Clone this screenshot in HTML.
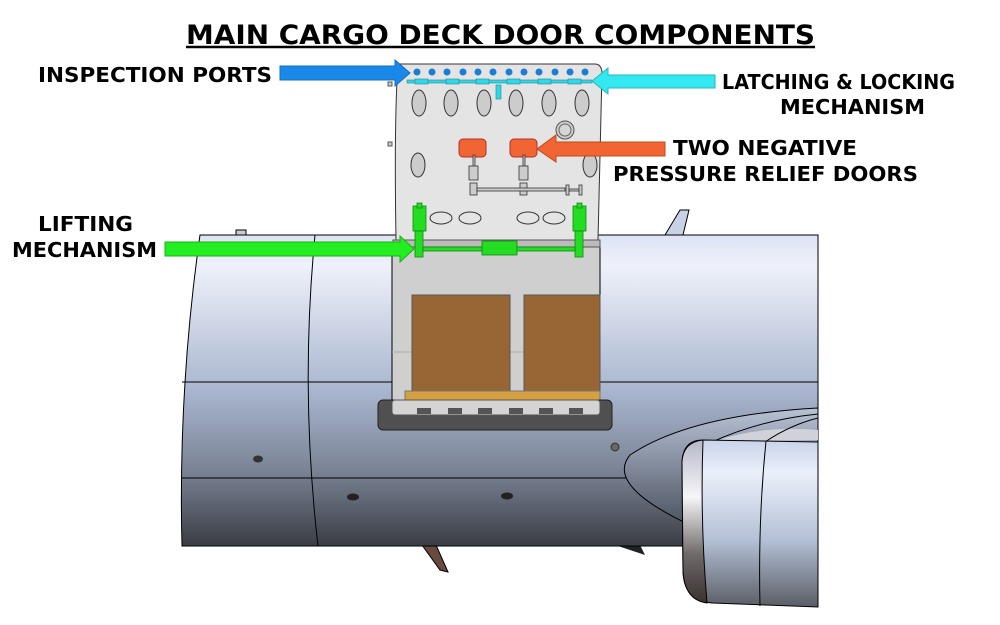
<!DOCTYPE html>
<html><head><meta charset="utf-8"><style>
body{margin:0;background:#fff;width:1000px;height:625px;overflow:hidden}
svg{display:block}
text{font-family:"DejaVu Sans","Liberation Sans",sans-serif;font-weight:bold;fill:#000}
</style></head><body>
<svg width="1000" height="625" viewBox="0 0 1000 625">
<defs>
<linearGradient id="fus" x1="0" y1="0" x2="0" y2="1">
<stop offset="0" stop-color="#dde3f4"/><stop offset="0.1" stop-color="#eef1fa"/>
<stop offset="0.5" stop-color="#a9b6cf"/><stop offset="0.75" stop-color="#7c8597"/>
<stop offset="1" stop-color="#3a3d44"/></linearGradient>
<linearGradient id="nac" x1="0" y1="0" x2="0" y2="1">
<stop offset="0" stop-color="#c9d3ea"/><stop offset="0.2" stop-color="#eaf0fa"/>
<stop offset="0.6" stop-color="#b4c0d6"/><stop offset="1" stop-color="#5a5d64"/></linearGradient>
<linearGradient id="lip" x1="0" y1="0" x2="0" y2="1">
<stop offset="0" stop-color="#b6b8c8"/><stop offset="0.35" stop-color="#f6f6f8"/>
<stop offset="0.7" stop-color="#706a6a"/><stop offset="1" stop-color="#3a3030"/></linearGradient>
<linearGradient id="pyl" x1="0" y1="0" x2="0" y2="1">
<stop offset="0" stop-color="#b8c2d6"/><stop offset="1" stop-color="#4c5360"/></linearGradient>
</defs>

<text x="186" y="44" font-size="27" textLength="629" lengthAdjust="spacingAndGlyphs">MAIN CARGO DECK DOOR COMPONENTS</text>
<line x1="186" y1="47" x2="815" y2="47" stroke="#000" stroke-width="2.5"/>

<!-- fins -->
<polygon points="665,235 680,210 689,210 683,235" fill="#c9d1e6" stroke="#000"/>
<polygon points="422,545 436,545 448,572 440,570" fill="#6a4a40" stroke="#000"/>
<polygon points="615,545 640,545 645,555" fill="#222"/>
<rect x="236" y="230" width="10" height="6" fill="#ccc" stroke="#000"/>

<!-- fuselage -->
<path d="M200,235 L818,235 L818,546 L182,546 Q178,390 200,235 Z" fill="url(#fus)" stroke="#000"/>
<path d="M315,235 Q300,390 318,546" fill="none" stroke="#000"/>
<line x1="182" y1="382" x2="818" y2="382" stroke="#000"/>
<line x1="182" y1="478" x2="818" y2="478" stroke="#000"/>
<ellipse cx="258" cy="459" rx="5" ry="3.5" fill="#333"/>
<ellipse cx="353" cy="497" rx="6" ry="3.5" fill="#222"/>
<ellipse cx="507" cy="496" rx="6" ry="3.5" fill="#222"/>
<circle cx="615" cy="447" r="4" fill="#666" stroke="#333"/>

<!-- pylon -->
<path d="M818,408 Q690,415 630,455 Q605,485 690,525 L818,525 Z" fill="url(#pyl)" stroke="#000"/>
<path d="M712,442 L818,440 L818,430 Q760,425 712,442Z" fill="#d0d2da"/>
<path d="M712,442 Q760,420 818,414" fill="none" stroke="#000"/>
<path d="M765,442 Q790,425 818,418" fill="none" stroke="#000"/>
<!-- engine -->
<path d="M703,440 L818,442 L818,607 L712,603 Q683,600 683,570 L682,462 Q683,440 703,440 Z" fill="url(#nac)" stroke="#000"/>
<path d="M703,440 Q683,442 682,462 L683,570 Q684,600 707,603 Q700,520 703,440Z" fill="url(#lip)" stroke="#000"/>
<path d="M766,441 Q758,520 760,606" fill="none" stroke="#000"/>

<!-- door opening -->
<path d="M392,243 L600,243 L600,410 L392,410 Z" fill="#cfcfcf" stroke="#000"/>
<line x1="392" y1="352" x2="600" y2="352" stroke="#aaa"/>
<rect x="412" y="295" width="98" height="96" fill="#986535" stroke="#555"/>
<rect x="524" y="295" width="76" height="96" fill="#986535" stroke="#555"/>
<rect x="405" y="391" width="195" height="9" fill="#d6a040" stroke="#777"/>
<rect x="378" y="400" width="234" height="30" rx="5" fill="#505050" stroke="#222"/>
<rect x="392" y="400" width="208" height="15" rx="3" fill="#d4d4d4" stroke="#555"/>
<g fill="#555"><rect x="417" y="408" width="14" height="6"/><rect x="448" y="408" width="14" height="6"/><rect x="478" y="408" width="14" height="6"/><rect x="509" y="408" width="14" height="6"/><rect x="539" y="408" width="14" height="6"/><rect x="569" y="408" width="14" height="6"/></g>

<!-- open door panel -->
<path d="M398,64 L595,64 Q601,64 602,72 L598,240 L396,240 Q394,120 398,64Z" fill="#e4e4e4" stroke="#333"/>
<rect x="393" y="240" width="207" height="7" fill="#bbb" stroke="#555"/>
<rect x="388" y="82" width="4" height="4" fill="#ccc" stroke="#555"/>
<rect x="388" y="142" width="4" height="4" fill="#ccc" stroke="#555"/>
<g fill="#1a7ed6"><circle cx="417" cy="72" r="3.5"/><circle cx="432" cy="72" r="3.5"/><circle cx="447" cy="72" r="3.5"/><circle cx="463" cy="72" r="3.5"/><circle cx="478" cy="72" r="3.5"/><circle cx="493" cy="72" r="3.5"/><circle cx="509" cy="72" r="3.5"/><circle cx="524" cy="72" r="3.5"/><circle cx="539" cy="72" r="3.5"/><circle cx="555" cy="72" r="3.5"/><circle cx="570" cy="72" r="3.5"/><circle cx="585" cy="72" r="3.5"/></g>
<rect x="407" y="80" width="185" height="3" fill="#33d6e6" stroke="#1a8a96" stroke-width="0.6"/>
<g fill="#33d6e6" stroke="#1a8a96" stroke-width="0.6"><rect x="415" y="79" width="13" height="5"/><rect x="446" y="79" width="13" height="5"/><rect x="476" y="79" width="13" height="5"/><rect x="507" y="79" width="13" height="5"/><rect x="538" y="79" width="13" height="5"/><rect x="568" y="79" width="13" height="5"/><rect x="496" y="85" width="5" height="14"/></g>
<g fill="#ccc" stroke="#333"><ellipse cx="419" cy="103" rx="7" ry="13"/><ellipse cx="451" cy="103" rx="7" ry="13"/><ellipse cx="484" cy="103" rx="7" ry="13"/><ellipse cx="516" cy="103" rx="7" ry="13"/><ellipse cx="549" cy="103" rx="7" ry="13"/><ellipse cx="582" cy="103" rx="7" ry="13"/><ellipse cx="418" cy="165" rx="7" ry="12"/><ellipse cx="590" cy="165" rx="7" ry="12"/></g>
<circle cx="565" cy="130" r="9" fill="#ccc" stroke="#555"/><circle cx="565" cy="130" r="6" fill="#d6d6d6" stroke="#666"/>
<g fill="none" stroke="#333"><ellipse cx="441" cy="218" rx="11" ry="6"/><ellipse cx="470" cy="218" rx="11" ry="6"/><ellipse cx="528" cy="218" rx="11" ry="6"/><ellipse cx="554" cy="218" rx="11" ry="6"/></g>
<rect x="459" y="139" width="27" height="18" rx="4" fill="#f26532" stroke="#a33"/>
<rect x="510" y="139" width="27" height="18" rx="4" fill="#f26532" stroke="#a33"/>
<g fill="#ccc" stroke="#333" stroke-width="0.8"><rect x="473" y="155" width="2" height="12"/><rect x="523" y="155" width="2" height="12"/><rect x="469" y="166" width="9" height="14"/><rect x="519" y="166" width="9" height="14"/><rect x="470" y="183" width="7" height="12"/><rect x="520" y="183" width="7" height="12"/><rect x="477" y="188" width="88" height="3"/><rect x="566" y="185" width="3" height="10"/><rect x="579" y="185" width="3" height="10"/><rect x="569" y="189" width="10" height="2"/></g>
<!-- lifting -->
<g fill="#22dd22" stroke="#118811" stroke-width="0.8">
<rect x="413" y="206" width="13" height="25"/><rect x="417" y="203" width="5" height="5"/><rect x="415" y="231" width="8" height="26"/>
<rect x="573" y="206" width="13" height="25"/><rect x="577" y="203" width="5" height="5"/><rect x="575" y="231" width="8" height="26"/>
<rect x="423" y="247" width="152" height="4"/><rect x="482" y="241" width="35" height="14"/></g>

<!-- arrows -->
<polygon points="280,66 395,66 395,60 410,73 395,86 395,80 280,80" fill="#1a88e8" stroke="#136fc0"/>
<polygon points="715,75 608,75 608,68 592,81 608,94 608,88 715,88" fill="#33e8f0" stroke="#22b8c0"/>
<polygon points="665,142 556,142 556,135 537,149 556,162 556,156 665,156" fill="#f26532" stroke="#c04a20"/>
<polygon points="165,242 400,242 400,236 414,249 400,262 400,256 165,256" fill="#22ee22" stroke="#19b019"/>

<g font-size="20">
<text x="38" y="82" textLength="234" lengthAdjust="spacingAndGlyphs">INSPECTION PORTS</text>
<text x="722" y="89" textLength="233" lengthAdjust="spacingAndGlyphs">LATCHING &amp; LOCKING</text>
<text x="780" y="114" textLength="145" lengthAdjust="spacingAndGlyphs">MECHANISM</text>
<text x="673" y="155" textLength="184" lengthAdjust="spacingAndGlyphs">TWO NEGATIVE</text>
<text x="613" y="181" textLength="305" lengthAdjust="spacingAndGlyphs">PRESSURE RELIEF DOORS</text>
<text x="38" y="231" textLength="95" lengthAdjust="spacingAndGlyphs">LIFTING</text>
<text x="12" y="257" textLength="145" lengthAdjust="spacingAndGlyphs">MECHANISM</text>
</g>
</svg>
</body></html>
